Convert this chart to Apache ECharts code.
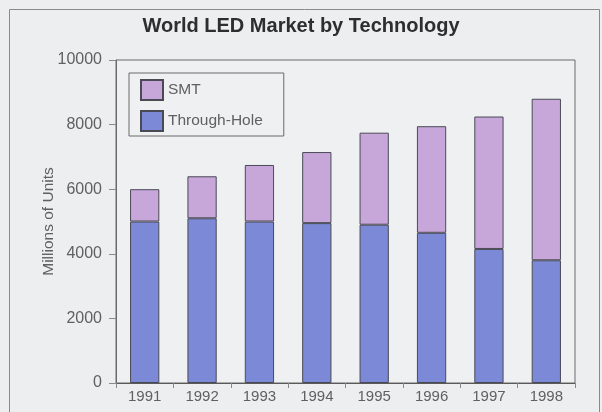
<!DOCTYPE html>
<html>
<head>
<meta charset="utf-8">
<script src="https://cdn.jsdelivr.net/npm/echarts@6/dist/echarts.min.js"></script>
<style>
  html, body { margin: 0; padding: 0; background: #eceef0; }
  #chart { width: 602px; height: 412px; }
</style>
</head>
<body>
<div id="chart"></div>
<script>
// World LED market, millions of units, split by package technology
const years = ['1991', '1992', '1993', '1994', '1995', '1996', '1997', '1998'];
const throughHole = [5000, 5100, 5000, 4950, 4900, 4650, 4150, 3800];
const smt = [1000, 1300, 1750, 2200, 2850, 3300, 4100, 5000];
const yTicks = [0, 2000, 4000, 6000, 8000, 10000];

const FONT = '"Liberation Sans", Arial, Helvetica, sans-serif';
const SMT_COLOR = '#c7a6da';
const TH_COLOR = '#7b89d6';
const EDGE = '#4a4a55';
const TEXT = '#606060';

const chart = echarts.init(document.getElementById('chart'), null, { renderer: 'canvas' });

chart.setOption({
  backgroundColor: '#eceef0',
  animation: false,
  textStyle: { fontFamily: FONT },
  title: {
    text: 'World LED Market by Technology',
    left: 'center',
    top: 11,
    textStyle: { fontFamily: FONT, fontSize: 20, fontWeight: 'bold', color: '#2e2e2e' }
  },
  graphic: [{
    type: 'rect',
    shape: { x: 9.5, y: 9.5, width: 590, height: 410 },
    style: { fill: 'none', stroke: '#8a8a8a', lineWidth: 1 },
    silent: true,
    z: -1
  }],
  legend: {
    orient: 'vertical',
    left: 129,
    top: 73,
    data: ['SMT', 'Through-Hole'],
    icon: 'rect',
    itemWidth: 22,
    itemHeight: 20,
    itemGap: 9,
    padding: [6, 21, 4, 11],
    borderColor: '#6a6a6a',
    borderWidth: 1,
    backgroundColor: '#eef0f2',
    textStyle: { fontFamily: FONT, fontSize: 15.5, color: TEXT },
    selectedMode: false
  },
  grid: {
    left: 116,
    top: 60,
    right: 27,
    bottom: 29,
    show: true,
    borderColor: '#6a6a6a',
    borderWidth: 1,
    backgroundColor: '#eff0f2'
  },
  xAxis: {
    type: 'category',
    data: years,
    axisLine: { lineStyle: { color: '#5a5a5a' } },
    axisTick: { show: true, length: 5, inside: false, lineStyle: { color: '#8a8a8a' } },
    axisLabel: { fontFamily: FONT, fontSize: 15, color: TEXT, margin: 6 }
  },
  yAxis: {
    type: 'value',
    min: yTicks[0],
    max: yTicks[yTicks.length - 1],
    interval: 2000,
    name: 'Millions of Units',
    nameLocation: 'middle',
    nameGap: 59,
    nameMoveOverlap: false,
    nameTextStyle: { fontFamily: FONT, fontSize: 15.5, color: TEXT },
    splitLine: { show: false },
    axisLine: { show: true, lineStyle: { color: '#6a6a6a' } },
    axisTick: { show: true, length: 7, lineStyle: { color: '#8a8a8a' } },
    axisLabel: {
      fontFamily: FONT, fontSize: 16, color: TEXT, margin: 14,
      formatter: (v) => String(v)
    }
  },
  series: [
    {
      name: 'Through-Hole',
      type: 'bar',
      stack: 'total',
      data: throughHole,
      barWidth: '51%',
      itemStyle: { color: TH_COLOR, borderColor: EDGE, borderWidth: 1 }
    },
    {
      name: 'SMT',
      type: 'bar',
      stack: 'total',
      data: smt,
      barWidth: '51%',
      itemStyle: { color: SMT_COLOR, borderColor: EDGE, borderWidth: 1 }
    }
  ]
});
</script>
</body>
</html>
